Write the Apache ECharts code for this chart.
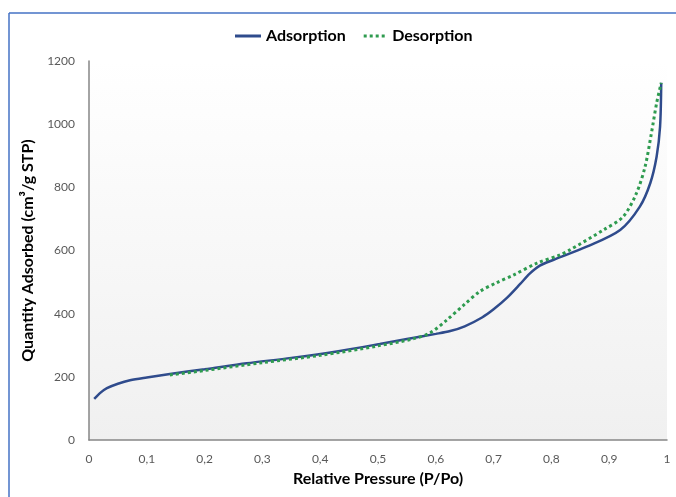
<!DOCTYPE html>
<html lang="en">
<head>
    <meta charset="UTF-8">
    <title>Isotherm</title>
    <script src="https://cdn.jsdelivr.net/npm/echarts@6/dist/echarts.min.js"></script>
    <style>
        html, body { margin: 0; padding: 0; background: #fff; }
        #main { width: 676px; height: 497px; }
    </style>
</head>
<body>
<div id="main"></div>
<script>
    // P/Po values and quantity adsorbed (cm3/g STP)
    var adsX = [0.009, 0.02, 0.031, 0.05, 0.071, 0.1, 0.14, 0.2, 0.273, 0.35, 0.434, 0.503, 0.55, 0.6, 0.625, 0.65, 0.68, 0.7, 0.723, 0.746, 0.762, 0.78, 0.803, 0.861, 0.919, 0.953, 0.971, 0.982, 0.988, 0.99];
    var adsY = [130, 150, 164, 178, 189, 198, 209, 224, 243, 260, 282, 304, 320, 336, 345, 360, 388, 414, 450, 494, 526, 552, 570, 612, 665, 739, 813, 897, 992, 1131];
    var desX = [0.14, 0.2, 0.3, 0.4, 0.5, 0.56, 0.59, 0.619, 0.65, 0.676, 0.705, 0.734, 0.775, 0.815, 0.832, 0.89, 0.924, 0.947, 0.962, 0.973, 0.982, 0.99];
    var desY = [206, 220, 245, 268, 298, 320, 339, 380, 430, 470, 498, 522, 560, 586, 602, 665, 707, 781, 865, 971, 1066, 1131];

    function pairs(xs, ys) {
        return xs.map(function (x, i) { return [x, ys[i]]; });
    }

    var font = 'Lato, "Open Sans", sans-serif';
    var chart = echarts.init(document.getElementById('main'));
    chart.setOption({
        animation: false,
        backgroundColor: '#fff',
        textStyle: { fontFamily: font },
        graphic: [
            { type: 'line', shape: { x1: 9, y1: 13, x2: 676, y2: 13 }, style: { stroke: '#4472c4', lineWidth: 1.5 } },
            { type: 'line', shape: { x1: 9, y1: 13, x2: 9, y2: 497 }, style: { stroke: '#4472c4', lineWidth: 1.5 } }
        ],
        legend: {
            top: 23,
            left: 230,
            itemWidth: 26,
            itemHeight: 3,
            itemGap: 18,
            textStyle: { fontSize: 16, fontWeight: 'bold', color: '#000', fontFamily: font },
            data: [
                { name: 'Adsorption', icon: 'path://M0,0H26V3H0Z' },
                { name: 'Desorption', icon: 'path://M0,0H3V3H0ZM6,0H9V3H6ZM12,0H15V3H12ZM18,0H21V3H18Z' }
            ]
        },
        grid: {
            left: 89,
            right: 9,
            top: 61,
            bottom: 57,
            show: true,
            borderWidth: 0,
            backgroundColor: {
                type: 'linear', x: 0, y: 0, x2: 0, y2: 1,
                colorStops: [{ offset: 0, color: '#ffffff' }, { offset: 1, color: '#f0f0f0' }]
            }
        },
        xAxis: {
            type: 'value',
            min: 0,
            max: 1,
            interval: 0.1,
            name: 'Relative Pressure (P/Po)',
            nameLocation: 'middle',
            nameGap: 31,
            nameTextStyle: { fontSize: 16, fontWeight: 'bold', color: '#000' },
            axisLine: { lineStyle: { color: '#868686', width: 1.5 } },
            axisTick: { show: false },
            splitLine: { show: false },
            axisLabel: {
                color: '#595959',
                fontSize: 12,
                margin: 13,
                formatter: function (v) { return (+v.toFixed(1)).toString().replace('.', ','); }
            }
        },
        yAxis: {
            type: 'value',
            min: 0,
            max: 1200,
            interval: 200,
            name: 'Quantity Adsorbed (cm³/g STP)',
            nameLocation: 'middle',
            nameGap: 48,
            nameTextStyle: { fontSize: 16, fontWeight: 'bold', color: '#000' },
            axisLine: { show: true, lineStyle: { color: '#868686', width: 1.5 } },
            axisTick: { show: false },
            splitLine: { show: false },
            axisLabel: {
                color: '#595959',
                fontSize: 12,
                margin: 14,
                formatter: function (v) { return String(v); }
            }
        },
        series: [{
            name: 'Adsorption',
            type: 'line',
            smooth: 0.3,
            showSymbol: false,
            color: '#2f4b8c',
            lineStyle: { width: 2.5, color: '#2f4b8c' },
            data: pairs(adsX, adsY),
            z: 2
        }, {
            name: 'Desorption',
            type: 'line',
            smooth: 0.3,
            showSymbol: false,
            color: '#2e9b4f',
            lineStyle: { width: 3, color: '#2e9b4f', type: [3, 3] },
            data: pairs(desX, desY),
            z: 3
        }]
    });
</script>
</body>
</html>
